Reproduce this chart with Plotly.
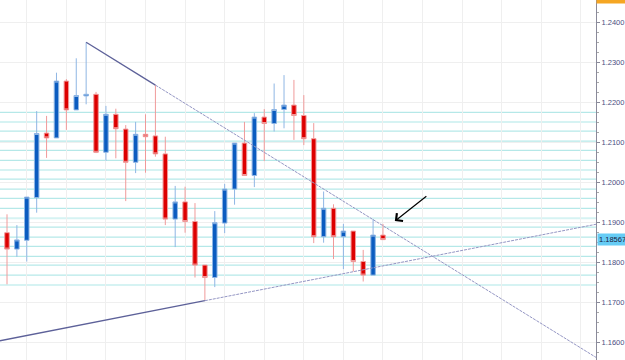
import numpy as np
import plotly.graph_objects as go

# ---- data (EUR/USD style candles) ----
idx = list(range(39))
open_ = [1.1874, 1.1833, 1.1855, 1.1962, 1.2123, 1.2111, 1.2253, 1.2181, 1.2216, 1.2220,
         1.2075, 1.2170, 1.2133, 1.2050, 1.2120, 1.2116, 1.2071, 1.1908, 1.1951, 1.1902,
         1.1793, 1.1762, 1.1898, 1.1983, 1.2098, 1.2017, 1.2163, 1.2147, 1.2182, 1.2193,
         1.2167, 1.2109, 1.1864, 1.1935, 1.1864, 1.1878, 1.1802, 1.1768, 1.1868]
high = [1.1920, 1.1893, 1.1963, 1.2178, 1.2166, 1.2274, 1.2258, 1.2310, 1.2350, 1.2226,
        1.2191, 1.2184, 1.2143, 1.2151, 1.2170, 1.2243, 1.2114, 1.1991, 1.1989, 1.1948,
        1.1793, 1.1928, 1.1996, 1.2098, 1.2151, 1.2173, 1.2183, 1.2247, 1.2268, 1.2256,
        1.2218, 1.2148, 1.1977, 1.1945, 1.1896, 1.1878, 1.1831, 1.1908, 1.1896]
low = [1.1745, 1.1814, 1.1802, 1.1924, 1.2061, 1.2111, 1.2131, 1.2181, 1.2195, 1.2073,
       1.2054, 1.2060, 1.1953, 1.2023, 1.2024, 1.2064, 1.1893, 1.1838, 1.1874, 1.1762,
       1.1704, 1.1738, 1.1873, 1.1944, 1.2017, 1.1988, 1.2053, 1.2127, 1.2135, 1.2106,
       1.2093, 1.1848, 1.1849, 1.1808, 1.1783, 1.1777, 1.1752, 1.1768, 1.1857]
close = [1.1833, 1.1856, 1.1963, 1.2122, 1.2111, 1.2253, 1.2181, 1.2217, 1.2220, 1.2075,
         1.2170, 1.2134, 1.2050, 1.2120, 1.2114, 1.2071, 1.1908, 1.1951, 1.1902, 1.1793,
         1.1762, 1.1899, 1.1983, 1.2098, 1.2017, 1.2163, 1.2147, 1.2182, 1.2193, 1.2167,
         1.2109, 1.1864, 1.1935, 1.1864, 1.1878, 1.1802, 1.1768, 1.1868, 1.18567]

# horizontal levels (price) and which are pale
levels = [1.2175, 1.2151, 1.2128, 1.2103, 1.2080, 1.2055, 1.2031, 1.2008, 1.1983, 1.1960,
          1.1935, 1.1910, 1.1888, 1.1863, 1.1840, 1.1815, 1.1793, 1.1768, 1.1743]
pale_levels = [1.2151, 1.2031, 1.1910, 1.1743]

# trend line anchors (index, price)
trend_down_x = [8, 15]
trend_down_y = [1.2350, 1.2243]
trend_up_x = [-10, 20]
trend_up_y = [1.1559, 1.1704]

last_price = 1.18567
top_label = "1.24583"
arrow_tip = (39.2, 1.1903)

x_range = [-0.707, 59.53]
y_range = [1.155575, 1.245575]

fig = go.Figure()

# levels
for lv in levels:
    pale = lv in pale_levels
    fig.add_shape(type="line", xref="paper", x0=0, x1=1, yref="y", y0=lv, y1=lv,
                  line=dict(color="#d6f3f3" if pale else "#a3e3e3", width=2 if pale else 1),
                  layer="below")

fig.add_trace(go.Candlestick(
    x=idx, open=open_, high=high, low=low, close=close,
    increasing=dict(line=dict(color="#8fb6e4", width=1), fillcolor="#0b5cc0"),
    decreasing=dict(line=dict(color="#f09a9a", width=1), fillcolor="#dd0000"),
    whiskerwidth=0, showlegend=False, hoverinfo="skip"))


def extend(xs, ys, x_end):
    slope = (ys[1] - ys[0]) / (xs[1] - xs[0])
    return [xs[1], x_end], [ys[1], ys[1] + slope * (x_end - xs[1])]

# descending trend line
fig.add_trace(go.Scatter(x=trend_down_x, y=trend_down_y, mode="lines",
                         line=dict(color="#5d6199", width=1.3), showlegend=False, hoverinfo="skip"))
ex, ey = extend(trend_down_x, trend_down_y, x_range[1])
fig.add_trace(go.Scatter(x=ex, y=ey, mode="lines",
                         line=dict(color="#9496c4", width=1, dash="3px,1px"), showlegend=False, hoverinfo="skip"))

# ascending trend line
fig.add_trace(go.Scatter(x=trend_up_x, y=trend_up_y, mode="lines",
                         line=dict(color="#5d6199", width=1.3), showlegend=False, hoverinfo="skip"))
ex, ey = extend(trend_up_x, trend_up_y, x_range[1])
fig.add_trace(go.Scatter(x=ex, y=ey, mode="lines",
                         line=dict(color="#9496c4", width=1, dash="3px,1px"), showlegend=False, hoverinfo="skip"))

fig.add_annotation(x=arrow_tip[0], y=arrow_tip[1], xref="x", yref="y", text="",
                   showarrow=True, ax=33, ay=-26, arrowhead=4, arrowsize=1.6,
                   arrowwidth=1.2, arrowcolor="#000000")

fig.add_annotation(x=1, xref="paper", xanchor="left", xshift=1, y=last_price, yref="y",
                   text="1.18567", showarrow=False, bgcolor="#66ccf5", borderpad=1,
                   font=dict(family="Liberation Sans", size=7.5, color="#1a2040"))
fig.add_annotation(x=1, xref="paper", xanchor="left", xshift=0, y=1 - 4 / 360, yref="paper",
                   yanchor="bottom", text=top_label, showarrow=False, bgcolor="#f5a623",
                   borderpad=1, font=dict(family="Liberation Sans", size=7.5, color="#333333"))

fig.update_layout(
    width=625, height=360, margin=dict(l=0, r=29, t=0, b=0),
    paper_bgcolor="white", plot_bgcolor="white",
    font=dict(family="Liberation Sans", size=7.5, color="#4b4f7f"),
    boxgap=0.35,
    xaxis=dict(range=x_range, showticklabels=False, showgrid=True, gridcolor="#efefef",
               tick0=2, dtick=4, zeroline=False, rangeslider=dict(visible=False),
               showline=False, ticks=""),
    yaxis=dict(range=y_range, side="right", dtick=0.01, tickformat=".4f",
               showgrid=True, gridcolor="#efefef", zeroline=False,
               showline=True, linecolor="#8a8a9a", linewidth=1,
               ticks="outside", ticklen=3, tickcolor="#8a8a9a",
               minor=dict(dtick=0.0025, ticks="outside", ticklen=2, tickcolor="#aaaaaa", showgrid=False),
               tickfont=dict(family="Liberation Sans", size=7.5, color="#4b4f7f")),
)

fig.write_html("out.html")
